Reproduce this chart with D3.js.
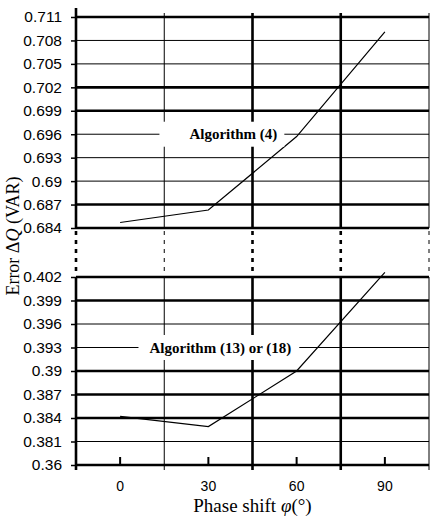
<!DOCTYPE html>
<html>
<head>
<meta charset="utf-8">
<script src="https://cdn.jsdelivr.net/npm/d3@7"></script>
<style>
  body{margin:0;background:#fff;}
  svg{display:block;}
</style>
</head>
<body>
<svg id="chart" width="436" height="518"></svg>
<script>
// data
var phases=[0,30,60,90];
var algo4=[0.6847,0.6863,0.6957,0.7091];
var algo13=[0.3842,0.3829,0.3900,0.4026];
var topTicks=[0.684,0.687,0.69,0.693,0.696,0.699,0.702,0.705,0.708,0.711];
var botTicks=[0.36,0.381,0.384,0.387,0.39,0.393,0.396,0.399,0.402];

// heavy lines in the scan
var topBold=[0.711,0.702,0.699,0.687,0.684],
 botBold=[0.402,0.399,0.39,0.387,0.384,0.36];

var sans='"Liberation Sans", Arial, sans-serif',
 serif='"Liberation Serif", "Times New Roman", serif';

var svg=d3.select("#chart"),
 left=76, right=429,
 topY0=17, topY1=228,
 botY0=277, botY1=465;

var x=d3.scaleBand().domain(phases).range([left,right]).paddingInner(0).paddingOuter(0);
var yTop=d3.scaleLinear().domain([0.684,0.711]).range([topY1,topY0]);
// broken axis: 0.36 sits one step below 0.381
var step=(botY1-botY0)/8;
var yBot=d3.scaleLinear().domain([0.36,0.381,0.402]).range([botY1,botY1-step,botY0]);

var fmt=function(v){return String(+v.toFixed(3));};

function hgrid(scale,ticks,bold){
  svg.append("g").selectAll("line").data(ticks).enter().append("line")
    .attr("x1",left).attr("x2",right)
    .attr("y1",function(d){return scale(d);}).attr("y2",function(d){return scale(d);})
    .attr("stroke","#000")
    .attr("stroke-width",function(d){return bold.indexOf(d)!=-1?2.6:1;});
  // outward ticks + labels
  var ax=svg.append("g").attr("transform","translate("+left+",0)")
    .call(d3.axisLeft(scale).tickValues(ticks).tickFormat(fmt).tickSize(5).tickPadding(9));
  ax.attr("font-family",sans).attr("font-size",15.5);
  ax.select(".domain").remove();
  ax.selectAll("line").attr("stroke-width",1.5);
  ax.selectAll("text").attr("fill","#000");
}
hgrid(yTop,topTicks,topBold);
hgrid(yBot,botTicks,botBold);

// vertical gridlines at band edges
var vx=[{x:left,w:2.6}];
phases.slice(1).forEach(function(p,i){vx.push({x:x(p),w:i==0?1:2.6});});
vx.push({x:right,w:1});
var vg=svg.append("g");
vx.forEach(function(v){
  vg.append("line").attr("x1",v.x).attr("x2",v.x).attr("y1",v.x==left?8:13).attr("y2",topY1)
    .attr("stroke","#000").attr("stroke-width",v.w);
  vg.append("line").attr("x1",v.x).attr("x2",v.x).attr("y1",topY1+3).attr("y2",botY0-2)
    .attr("stroke","#000").attr("stroke-width",v.w).attr("stroke-dasharray","4,5");
  vg.append("line").attr("x1",v.x).attr("x2",v.x).attr("y1",botY0).attr("y2",botY1+5)
    .attr("stroke","#000").attr("stroke-width",v.w);
});

// x axis ticks (inward) and labels
var xa=svg.append("g").attr("transform","translate(0,"+botY1+")")
  .call(d3.axisBottom(x).tickSize(-8).tickPadding(16));
xa.attr("font-family",sans).attr("font-size",14);
xa.select(".domain").remove();
xa.selectAll("line").attr("stroke-width",2);
xa.selectAll("text").attr("fill","#000");

// series
var cx=function(p){return x(p)+x.bandwidth()/2;};
var lineTop=d3.line().x(function(d,i){return cx(phases[i]);}).y(function(d){return yTop(d);});
var lineBot=d3.line().x(function(d,i){return cx(phases[i]);}).y(function(d){return yBot(d);});
svg.append("path").attr("d",lineTop(algo4)).attr("fill","none").attr("stroke","#000").attr("stroke-width",1.2);
svg.append("path").attr("d",lineBot(algo13)).attr("fill","none").attr("stroke","#000").attr("stroke-width",1.2);

// labels with white boxes
function note(txt,xc,yc,padL,padR){
  var g=svg.append("g");
  var r=g.append("rect").attr("fill","#fff");
  var t=g.append("text").attr("x",xc).attr("y",yc).attr("dy","0.35em")
    .attr("font-family",serif).attr("font-size",15).attr("font-weight","bold")
    .attr("text-anchor","middle").text(txt);
  var b=t.node().getBBox();
  r.attr("x",b.x-padL).attr("y",yc-12.5).attr("width",b.width+padL+padR).attr("height",25);
}
note("Algorithm (4)",cx(30)+25,yTop(0.696),30,7);
note("Algorithm (13) or (18)",cx(30)+12,yBot(0.393),11,8);

// titles
svg.append("text").attr("x",(left+right)/2).attr("y",512)
  .attr("font-family",serif).attr("font-size",19)
  .attr("text-anchor","middle")
  .html('Phase shift <tspan font-style="italic">φ</tspan>(°)');
svg.append("text")
  .attr("font-family",serif).attr("font-size",18)
  .attr("transform","translate(19,"+236+") rotate(-90)")
  .attr("text-anchor","middle")
  .html('Error Δ<tspan font-style="italic">Q</tspan> (VAR)');
</script>
</body>
</html>
